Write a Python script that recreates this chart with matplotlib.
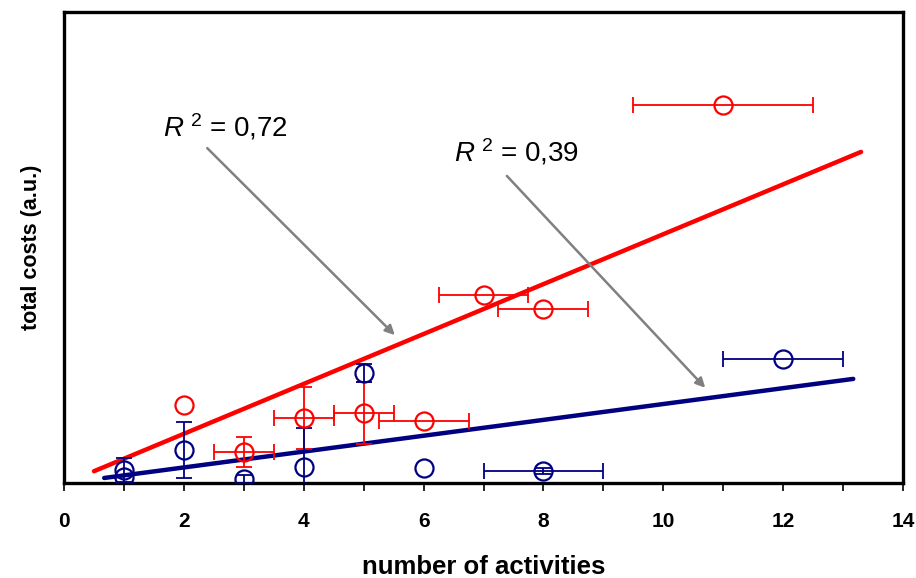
import matplotlib
matplotlib.use("Agg")
import matplotlib.pyplot as plt

plt.rcParams["font.family"] = ["Liberation Sans", "DejaVu Sans"]
plt.rcParams["mathtext.fontset"] = "custom"
plt.rcParams["mathtext.it"] = "Liberation Sans:italic"
plt.rcParams["mathtext.rm"] = "Liberation Sans"

# dane - niebieskie (a.u.)
blue_x = [1, 1, 2, 3, 4, 5, 6, 8, 12]
blue_y = [2.8, 1.3, 7.0, 0.85, 3.4, 23.4, 3.2, 2.5, 26.3]
blue_xerr = [0, 0, 0, 0, 0, 0, 0, 1, 1]
blue_yerr = [2.5, 0, 6.0, 0.8, 8.3, 1.9, 0, 0.6, 0]

# dane - czerwone
red_x = [2, 3, 4, 5, 6, 7, 8, 11]
red_y = [16.6, 6.6, 13.8, 14.9, 13.2, 39.9, 36.9, 80.3]
red_xerr = [0, 0.5, 0.5, 0.5, 0.75, 0.75, 0.75, 1.5]
red_yerr = [0, 3.2, 6.6, 6.6, 0, 0, 0, 0]

# linie trendu (końce)
red_fit_x = [0.5, 13.3]
red_fit_y = [2.5, 70.3]
blue_fit_x = [0.67, 13.17]
blue_fit_y = [1.06, 22.1]

# strzałki: (start, koniec)
arrow1 = [(2.39, 71.1), (5.52, 31.4)]
arrow2 = [(7.39, 65.2), (10.70, 20.2)]

BLUE = "#000080"
RED = "#ff0000"

fig = plt.figure(figsize=(9.16, 5.78), dpi=100)
ax = fig.add_axes([0.0699, 0.1644, 0.9159, 0.8148])

ax.plot(red_fit_x, red_fit_y, color=RED, lw=3.2, solid_capstyle="round", zorder=2)
ax.plot(blue_fit_x, blue_fit_y, color=BLUE, lw=3.2, solid_capstyle="round", zorder=2)

eb = dict(fmt="none", elinewidth=1.3, capsize=5.5, capthick=1.3, zorder=3)
for x, y, xe, ye, c in [(red_x, red_y, red_xerr, red_yerr, RED),
                        (blue_x, blue_y, blue_xerr, blue_yerr, BLUE)]:
    # tylko niezerowe słupki błędów
    ix = [i for i in range(len(x)) if xe[i] > 0]
    iy = [i for i in range(len(x)) if ye[i] > 0]
    if ix:
        ax.errorbar([x[i] for i in ix], [y[i] for i in ix],
                    xerr=[xe[i] for i in ix], ecolor=c, **eb)
    if iy:
        ax.errorbar([x[i] for i in iy], [y[i] for i in iy],
                    yerr=[ye[i] for i in iy], ecolor=c, **eb)
    ax.plot(x, y, "o", ms=13, mfc="none", mec=c, mew=1.6, zorder=4)

# adnotacje R^2
ax.text(1.65, 75.6, r"$R^{\ 2}$ = 0,72", fontsize=20, ha="left", va="center")
ax.text(6.5, 70.3, r"$R^{\ 2}$ = 0,39", fontsize=20, ha="left", va="center")
for a in (arrow1, arrow2):
    ax.annotate("", xy=a[1], xytext=a[0],
                arrowprops=dict(arrowstyle="-|>", color="#808080", lw=1.8,
                                mutation_scale=14, shrinkA=0, shrinkB=0))

ax.set_xlim(0, 14)
ax.set_ylim(0, 100)
ax.set_xticks(range(0, 15, 2))
ax.set_xticks(range(0, 15), minor=True)
ax.set_yticks([])
ax.tick_params(axis="x", which="both", direction="out", length=6, width=1.2, pad=15)
for lab in ax.get_xticklabels():
    lab.set_fontweight("bold")
    lab.set_fontsize(15)
for s in ax.spines.values():
    s.set_linewidth(2.4)

ax.set_xlabel("number of activities", fontsize=18.5, fontweight="bold", labelpad=17)
ax.set_ylabel("total costs (a.u.)", fontsize=15.5, fontweight="bold", labelpad=16)

fig.savefig("out.png", dpi=100)
